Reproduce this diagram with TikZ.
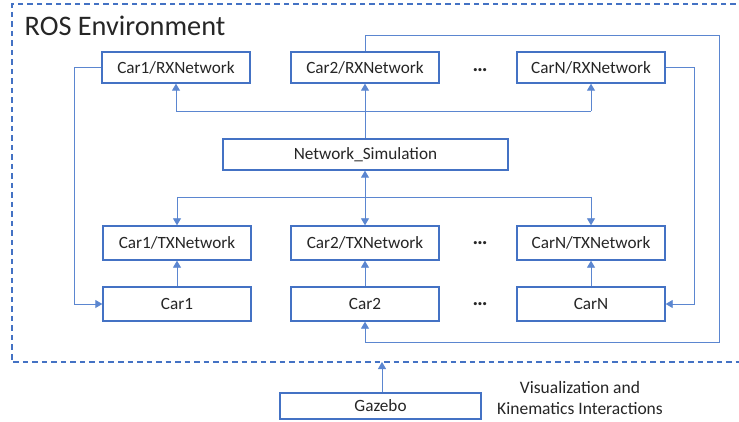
\documentclass[tikz,border=0pt]{standalone}
\usepackage{fontspec}
\setmainfont{Carlito}
\usetikzlibrary{arrows.meta}
\definecolor{boxblue}{HTML}{4472C4}
\definecolor{linkblue}{HTML}{5B86D0}
\definecolor{txt}{HTML}{262626}
\begin{document}
\begin{tikzpicture}[x=1pt,y=1pt,
  box/.style={draw=boxblue,line width=1.4pt,fill=white,minimum width=148pt,minimum height=31pt,inner sep=0pt,text=txt,font=\fontsize{17.2}{20}\selectfont},
  tall/.style={box,minimum height=34pt},
  conn/.style={draw=linkblue,line width=0.9pt},
  arr/.style={conn,-{Triangle[width=8pt,length=7pt]}},
  dbl/.style={conn,{Triangle[width=8pt,length=7pt]}-{Triangle[width=8pt,length=7pt]}},
  frame/.style={draw=boxblue,line width=1.4pt,dash pattern=on 5.5pt off 4pt},
  label/.style={text=txt,font=\fontsize{17.5}{21}\selectfont,align=center},
  dots/.style={text=txt,font=\fontsize{21}{22}\selectfont\bfseries}]
\useasboundingbox (0,0) rectangle (739,-422);
\fill[white] (0,0) rectangle (739,-422);
% frame
\coordinate (fr1) at (745,-4);
\coordinate (fr2) at (12,-4);
\coordinate (fr3) at (12,-362);
\coordinate (fr4) at (745,-362);
\draw[frame] (fr1) -- (fr2) -- (fr3) -- (fr4);
\node[anchor=west,text=txt,font=\fontsize{28.3}{32}\selectfont,inner sep=0pt] (title) at (24.5,-26) {ROS Environment};
% nodes
\node[box] (rx1) at (176,-67.5) {Car1/RXNetwork};
\node[box] (rx2) at (365,-67.5) {Car2/RXNetwork};
\node[box] (rxN) at (591,-67.5) {CarN/RXNetwork};
\node[box,minimum width=285pt] (ns) at (365.5,-154.5) {Network\_Simulation};
\node[tall] (tx1) at (177,-243) {Car1/TXNetwork};
\node[tall] (tx2) at (365,-243) {Car2/TXNetwork};
\node[tall] (txN) at (591,-243) {CarN/TXNetwork};
\node[tall] (car1) at (177,-304) {Car1};
\node[tall] (car2) at (365,-304) {Car2};
\node[tall] (carN) at (591,-304) {CarN};
\node[box,minimum width=201pt,minimum height=26pt] (gz) at (380.5,-406) {Gazebo};
\node[label] (vis) at (580,-397.5) {Visualization and\\Kinematics Interactions};
\node[dots] (d1) at (480,-70) {…};
\node[dots] (d2) at (480,-243.5) {…};
\node[dots] (d3) at (480,-304) {…};
% buses
\coordinate (tb) at (0,-111);
\coordinate (bb) at (0,-197);
\draw[conn] (rx1.south |- tb) -- (rxN.south |- tb);
\draw[arr] (rx1.south |- tb) -- (rx1.south);
\draw[arr] (rxN.south |- tb) -- (rxN.south);
\draw[arr] (ns.north -| rx2.south) -- (rx2.south);
\draw[conn] (tx1.north |- bb) -- (txN.north |- bb);
\draw[arr] (tx1.north |- bb) -- (tx1.north);
\draw[arr] (txN.north |- bb) -- (txN.north);
\draw[dbl] (ns.south -| tx2.north) -- (tx2.north);
% car to tx
\draw[arr] (car1.north) -- (tx1.south);
\draw[arr] (car2.north) -- (tx2.south);
\draw[arr] (carN.north) -- (txN.south);
% loops
\coordinate (l1) at (74,0);
\draw[arr] (rx1.west) -| (l1 |- car1.west) -- (car1.west);
\coordinate (lN) at (694,0);
\draw[arr] (rxN.east) -| (lN |- carN.east) -- (carN.east);
\coordinate (ou) at (719,-35);
\coordinate (ol) at (719,-342);
\draw[arr] (rx2.north) |- (ou) -- (ol) -| (car2.south);
% gazebo
\draw[arr] (gz.north -| 382,0) -- (382,-362);
\end{tikzpicture}
\end{document}
